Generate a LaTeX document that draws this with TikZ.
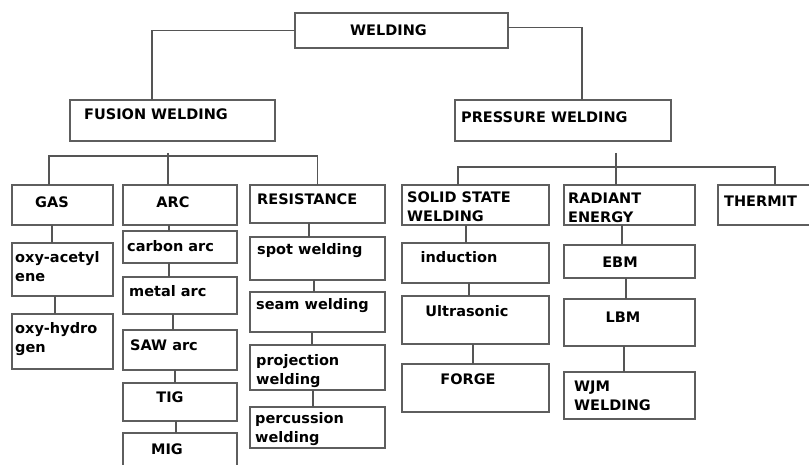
\documentclass[tikz,border=0pt]{standalone}
\usepackage{fontspec}
\setmainfont{DejaVu Sans}
\begin{document}
\begin{tikzpicture}[x=1pt,y=-1pt,
  bx/.style={draw=boxgray, line width=1.3pt, inner sep=0pt, outer sep=0pt, anchor=north west},
  txt/.style={font=\fontsize{14.5}{19}\selectfont\bfseries, inner sep=0pt, text=black, align=left},
  ln/.style={draw=linegray, line width=1.3pt}]
\definecolor{boxgray}{HTML}{5E5E5E}
\definecolor{linegray}{HTML}{555555}
\useasboundingbox (0,0) rectangle (809,465);
\clip (0,0) rectangle (809,465);
\fill[white] (0,0) rectangle (809,465);
% boxes
\node[bx, minimum width=213pt, minimum height=35pt] (weld) at (295,13) {};
\node[bx, minimum width=205pt, minimum height=41pt] (fus) at (70,100) {};
\node[bx, minimum width=216pt, minimum height=41pt] (pres) at (455,100) {};
\node[bx, minimum width=101pt, minimum height=40pt] (gas) at (12,185) {};
\node[bx, minimum width=114pt, minimum height=40pt] (arc) at (123,185) {};
\node[bx, minimum width=135pt, minimum height=38pt] (res) at (250,185) {};
\node[bx, minimum width=101pt, minimum height=53pt] (oxya) at (12,243) {};
\node[bx, minimum width=101pt, minimum height=55pt] (oxyh) at (12,314) {};
\node[bx, minimum width=114pt, minimum height=32pt] (carb) at (123,231) {};
\node[bx, minimum width=114pt, minimum height=37pt] (metal) at (123,277) {};
\node[bx, minimum width=114pt, minimum height=40pt] (saw) at (123,330) {};
\node[bx, minimum width=114pt, minimum height=38pt] (tig) at (123,383) {};
\node[bx, minimum width=114pt, minimum height=45pt] (mig) at (123,433) {};
\node[bx, minimum width=135pt, minimum height=43pt] (spot) at (250,237) {};
\node[bx, minimum width=135pt, minimum height=40pt] (seam) at (250,292) {};
\node[bx, minimum width=135pt, minimum height=45pt] (proj) at (250,345) {};
\node[bx, minimum width=135pt, minimum height=41pt] (perc) at (250,407) {};
\node[bx, minimum width=147pt, minimum height=40pt] (solid) at (402,185) {};
\node[bx, minimum width=131pt, minimum height=40pt] (rad) at (564,185) {};
\node[bx, minimum width=102pt, minimum height=40pt] (therm) at (718,185) {};
\node[bx, minimum width=147pt, minimum height=40pt] (ind) at (402,243) {};
\node[bx, minimum width=147pt, minimum height=48pt] (ultra) at (402,296) {};
\node[bx, minimum width=147pt, minimum height=48pt] (forge) at (402,364) {};
\node[bx, minimum width=131pt, minimum height=33pt] (ebm) at (564,245) {};
\node[bx, minimum width=131pt, minimum height=47pt] (lbm) at (564,299) {};
\node[bx, minimum width=131pt, minimum height=47pt] (wjm) at (564,372) {};
% texts
\node[txt, anchor=west] (t-weld) at (350,30) {WELDING};
\node[txt, anchor=west] (t-fus) at (84,114) {FUSION WELDING};
\node[txt, anchor=west] (t-pres) at (461,117) {PRESSURE WELDING};
\node[txt] (t-gas) at (52,202) {GAS};
\node[txt] (t-arc) at (173,202) {ARC};
\node[txt, anchor=west] (t-res) at (257,199) {RESISTANCE};
\node[txt, anchor=west] (t-oxya) at (15,266.5) {oxy-acetyl\\ene};
\node[txt, anchor=west] (t-oxyh) at (15,339.5) {oxy-hydro\\gen};
\node[txt, anchor=west] (t-carb) at (127,246) {carbon arc};
\node[txt, anchor=west] (t-metal) at (129,291) {metal arc};
\node[txt, anchor=west] (t-saw) at (130,345) {SAW arc};
\node[txt] (t-tig) at (170,397) {TIG};
\node[txt] (t-mig) at (167,449) {MIG};
\node[txt, anchor=west] (t-spot) at (257,251) {spot welding};
\node[txt, anchor=west] (t-seam) at (256,306) {seam welding};
\node[txt, anchor=west] (t-proj) at (256,371) {projection\\welding};
\node[txt, anchor=west] (t-perc) at (255,429.5) {percussion\\welding};
\node[txt, anchor=west] (t-solid) at (407,206.5) {SOLID STATE\\WELDING};
\node[txt, anchor=west] (t-rad) at (568,208) {RADIANT\\ENERGY};
\node[txt, anchor=west] (t-therm) at (724,201) {THERMIT};
\node[txt] (t-ind) at (459,257) {induction};
\node[txt] (t-ultra) at (467,311) {Ultrasonic};
\node[txt] (t-forge) at (468,379) {FORGE};
\node[txt] (t-ebm) at (620,262) {EBM};
\node[txt] (t-lbm) at (623,317) {LBM};
\node[txt, anchor=west] (t-wjm) at (574,395.5) {WJM\\WELDING};
% top connectors
\draw[ln] (weld.west) -| ([xshift=-20.5pt]fus.north);
\draw[ln] ([yshift=3pt]weld.east) -| ([xshift=19pt]pres.north);
% fusion bus
\coordinate (fbus) at (168,156);
\coordinate (ftop) at (168,153);
\draw[ln] ([xshift=-13.5pt]gas.north) |- (fbus) -| (res.north);
\draw[ln] (ftop) -- ([xshift=-12pt]arc.north);
% pressure bus
\coordinate (pbus) at (616,167);
\coordinate (ptop) at (616,153);
\draw[ln] ([xshift=-17.5pt]solid.north) |- (pbus) -| ([xshift=6pt]therm.north);
\draw[ln] (ptop) -- ([xshift=-13.5pt]rad.north);
% columns
\draw[ln] ([xshift=-10.5pt]gas.south) -- ([xshift=-10.5pt]oxya.north);
\draw[ln] ([xshift=-7.5pt]oxya.south) -- ([xshift=-7.5pt]oxyh.north);
\draw[ln] ([xshift=-11pt]arc.south) -- ([xshift=-11pt]carb.north);
\draw[ln] ([xshift=-11pt]carb.south) -- ([xshift=-11pt]metal.north);
\draw[ln] ([xshift=-7pt]metal.south) -- ([xshift=-7pt]saw.north);
\draw[ln] ([xshift=-5pt]saw.south) -- ([xshift=-5pt]tig.north);
\draw[ln] ([xshift=-4pt]tig.south) -- ([xshift=-4pt]mig.north);
\draw[ln] ([xshift=-8.5pt]res.south) -- ([xshift=-8.5pt]spot.north);
\draw[ln] ([xshift=-3.5pt]spot.south) -- ([xshift=-3.5pt]seam.north);
\draw[ln] ([xshift=-5.5pt]seam.south) -- ([xshift=-5.5pt]proj.north);
\draw[ln] ([xshift=-4.5pt]proj.south) -- ([xshift=-4.5pt]perc.north);
\draw[ln] ([xshift=-9.5pt]solid.south) -- ([xshift=-9.5pt]ind.north);
\draw[ln] ([xshift=-6.5pt]ind.south) -- ([xshift=-6.5pt]ultra.north);
\draw[ln] ([xshift=-2.5pt]ultra.south) -- ([xshift=-2.5pt]forge.north);
\draw[ln] ([xshift=-7.5pt]rad.south) -- ([xshift=-7.5pt]ebm.north);
\draw[ln] ([xshift=-3.5pt]ebm.south) -- ([xshift=-3.5pt]lbm.north);
\draw[ln] ([xshift=-5.5pt]lbm.south) -- ([xshift=-5.5pt]wjm.north);
\end{tikzpicture}
\end{document}
